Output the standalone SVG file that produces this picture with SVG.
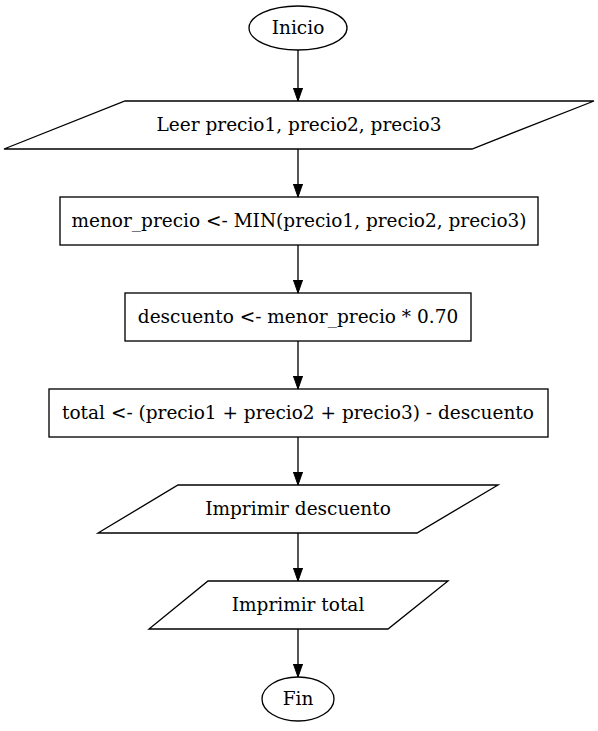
<svg xmlns="http://www.w3.org/2000/svg" width="598" height="731" viewBox="0 0 598 731">
<style>
.s{fill:#fff;stroke:#000;stroke-width:1.33}
.t{font-family:"DejaVu Serif",serif;font-size:18.5px;text-anchor:middle;fill:#000}
.e{fill:none;stroke:#000;stroke-width:1.33}
</style>
<defs>
<marker id="ah" markerUnits="userSpaceOnUse" markerWidth="14" markerHeight="10" refX="13.3" refY="4.7" orient="auto">
<path d="M0,0 L13.3,4.7 L0,9.4 Z" fill="#000" stroke="#000" stroke-width="1"/>
</marker>
</defs>
<rect width="598" height="731" fill="#fff"/>
<g id="edges">
<path class="e" d="M298,50 V101" marker-end="url(#ah)"/>
<path class="e" d="M298,149 V197" marker-end="url(#ah)"/>
<path class="e" d="M298,245 V293" marker-end="url(#ah)"/>
<path class="e" d="M298,341 V389" marker-end="url(#ah)"/>
<path class="e" d="M298,437 V485" marker-end="url(#ah)"/>
<path class="e" d="M298,533 V581" marker-end="url(#ah)"/>
<path class="e" d="M298,629 V677" marker-end="url(#ah)"/>
</g>
<g id="inicio">
<ellipse class="s" cx="298" cy="28" rx="49" ry="22"/>
<text class="t" x="298" y="34">Inicio</text>
</g>
<g id="leer">
<polygon class="s" points="125,101 594,101 472,149 4,149"/>
<text class="t" x="299" y="131">Leer precio1, precio2, precio3</text>
</g>
<g id="menor">
<rect class="s" x="60" y="197" width="478" height="48"/>
<text class="t" x="299" y="227">menor_precio &lt;- MIN(precio1, precio2, precio3)</text>
</g>
<g id="descuento">
<rect class="s" x="125" y="293" width="346" height="48"/>
<text class="t" x="298" y="323">descuento &lt;- menor_precio * 0.70</text>
</g>
<g id="total">
<rect class="s" x="49" y="389" width="499" height="48"/>
<text class="t" x="298" y="419">total &lt;- (precio1 + precio2 + precio3) - descuento</text>
</g>
<g id="imp_desc">
<polygon class="s" points="178,485 498,485 417,533 98,533"/>
<text class="t" x="298" y="515">Imprimir descuento</text>
</g>
<g id="imp_total">
<polygon class="s" points="208,581 448,581 388,629 149,629"/>
<text class="t" x="298" y="611">Imprimir total</text>
</g>
<g id="fin">
<ellipse class="s" cx="298" cy="699" rx="36" ry="22"/>
<text class="t" x="298" y="705">Fin</text>
</g>
</svg>
